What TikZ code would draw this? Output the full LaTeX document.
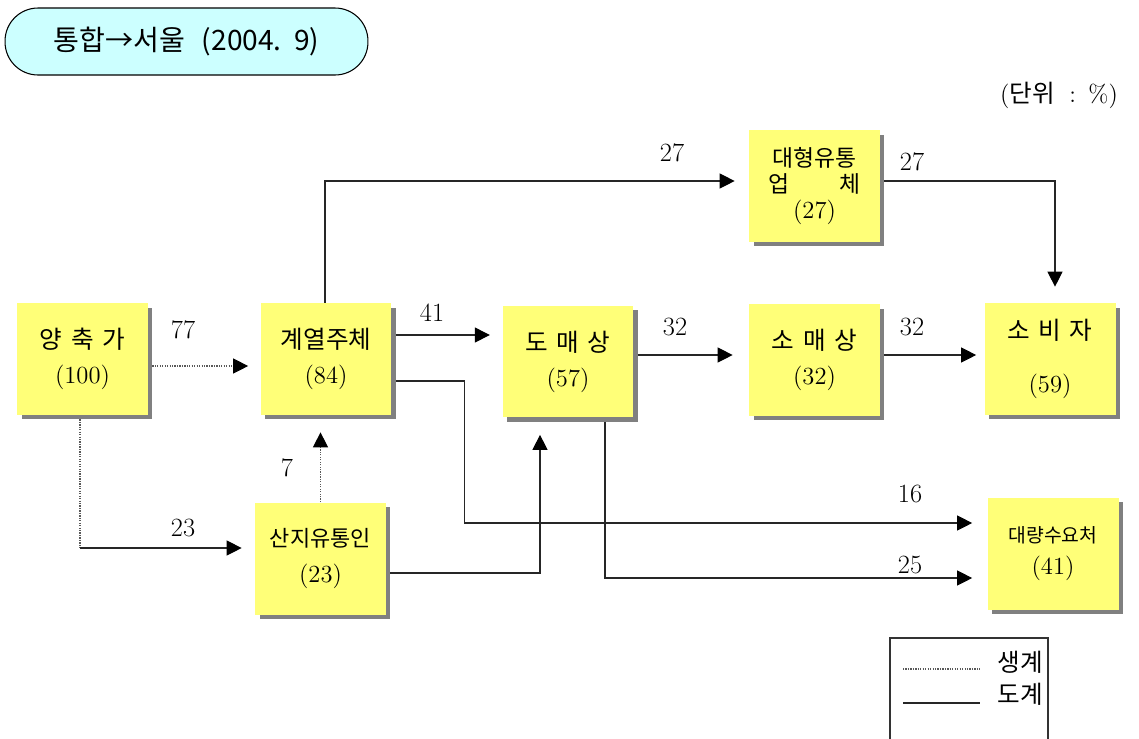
\documentclass[tikz,border=0pt]{standalone}
\usepackage{fontspec}
\newfontfamily\kr{Noto Sans CJK KR}
\usetikzlibrary{arrows.meta,shadows,calc}
\definecolor{boxy}{HTML}{FFFF78}
\definecolor{pill}{HTML}{CCFFFF}
\definecolor{shad}{HTML}{808080}
\begin{document}
\begin{tikzpicture}[x=0.02cm,y=-0.02cm,
  box/.style={draw=none, fill=boxy, minimum width=2.62cm, minimum height=2.24cm,
    inner sep=0pt, align=center, font=\fontsize{14}{20}\selectfont,
    drop shadow={shadow xshift=0.09cm, shadow yshift=-0.09cm, fill=shad, opacity=1}},
  conn/.style={line width=0.6pt, draw=black!85},
  dotl/.style={line width=0.6pt, draw=black!65, dash pattern=on 0.7pt off 0.7pt},
  arr/.style={-{Triangle[length=0.3cm,width=0.3cm,color=black]}},
  lbl/.style={font=\fontsize{15}{18}\selectfont, inner sep=0pt}
]
\useasboundingbox (0,0) rectangle (1139,738);

% title
\node[draw, fill=pill, rounded corners=0.66cm, minimum width=7.26cm, minimum height=1.34cm,
  line width=0.6pt, font=\kr\fontsize{16}{18}\selectfont] (title) at (186.5,41.5) {통합→서울\hspace{0.6em}(2004.\hspace{0.45em}9)};
\node[font=\fontsize{14}{16}\selectfont, inner sep=0pt] (unit) at (1059,95) {({\kr 단위}\hspace{0.6em}:\hspace{0.5em}\%)};

% boxes
\node[box] (yang) at (82.5,359) {{\kr 양\hspace{0.35em}축\hspace{0.35em}가}\\(100)};
\node[box] (gye) at (326,359) {{\kr 계열주체}\\(84)};
\node[box] (do) at (568,361.5) {{\kr 도\hspace{0.35em}매\hspace{0.35em}상}\\(57)};
\node[box] (so) at (814.5,360) {{\kr 소\hspace{0.35em}매\hspace{0.35em}상}\\(32)};
\node[box] (sobi) at (1050,359) {{\kr 소\hspace{0.35em}비\hspace{0.35em}자}\\[10pt](59)};
\node[box, font=\fontsize{14}{15}\selectfont] (dae) at (814.5,186) {{\kr\fontsize{13}{15}\selectfont 대형유통}\\{\kr\fontsize{13}{15}\selectfont\hbox to 4em{업\hfill 체}}\\(27)};
\node[box] (sanji) at (320.5,558.5) {{\kr\fontsize{12.5}{20}\selectfont 산지유통인}\\(23)};
\node[box, font=\fontsize{14}{18}\selectfont] (daer) at (1053,553.5) {{\kr\fontsize{11}{18}\selectfont 대량수요처}\\(41)};

% connectors
\draw[dotl,arr] ($(yang.east)+(4,7)$) -- ($(gye.west)+(-12,7)$);
\node[lbl] (l77) at (183,330) {77};

\coordinate (k1) at (80,548);
\draw[dotl] ($(yang.south)+(-2.5,4)$) -- (k1);
\draw[conn,arr] (k1) -- ($(sanji.west)+(-13,-10.5)$);
\node[lbl] (l23) at (183,528) {23};

\draw[dotl,arr] (sanji.north) -- ($(sanji.north |- gye.south)+(0,17)$);
\node[lbl] (l7) at (287,468) {7};

\draw[conn,arr] ($(sanji.east)+(4,14.5)$) -| ($(do.south)+(-28,17)$);

\draw[conn,arr] ($(gye.east)+(4,-24)$) -- ++(94,0);
\node[lbl] (l41) at (432,313) {41};

\draw[conn,arr] ($(gye.north)+(-1,0)$) |- ($(dae.west)+(-14,-5)$);
\node[lbl] (l27a) at (672,153) {27};

\draw[conn,arr] ($(gye.east)+(4,22)$) -- ++(69,0) |- ($(daer.west)+(-15,-30.5)$);
\node[lbl] (l16) at (910,494) {16};

\draw[conn,arr] ($(do.south)+(37,4)$) |- ($(daer.west)+(-15,24.5)$);
\node[lbl] (l25) at (910,565) {25};

\draw[conn,arr] ($(do.east)+(4,-6.5)$) -- ($(so.west)+(-16,-5)$);
\node[lbl] (l32a) at (675,327) {32};

\draw[conn,arr] ($(so.east)+(4,-5)$) -- ($(sobi.west)+(-8,-4)$);
\node[lbl] (l32b) at (912,327) {32};

\draw[conn,arr] ($(dae.east)+(4,-5)$) -| ($(sobi.north)+(5,-16)$);
\node[lbl] (l27b) at (912,162) {27};

% legend
\draw[line width=0.6pt, draw=black!80] (890,740) -- (890,638) -- (1048,638) -- (1048,740);
\draw[dotl] (903,669) -- (980,669);
\draw[conn] (903,703) -- (980,703);
\node[font=\kr\fontsize{14}{16}\selectfont, inner sep=0pt] (lg1) at (1020,662) {생계};
\node[font=\kr\fontsize{14}{16}\selectfont, inner sep=0pt] (lg2) at (1020,694) {도계};
\end{tikzpicture}
\end{document}
